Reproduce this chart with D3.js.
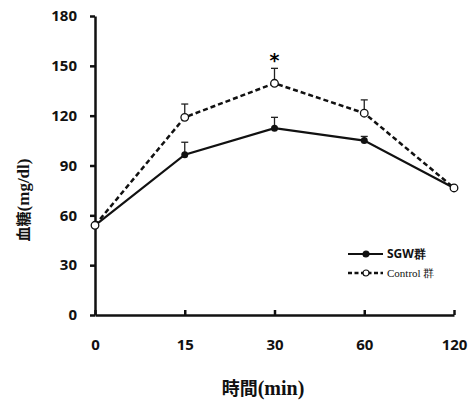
<!DOCTYPE html>
<html>
<head>
<meta charset="utf-8">
<script src="https://cdn.jsdelivr.net/npm/d3@7"></script>
<style>
  body { margin: 0; background: #fff; }
  .tick text { font-family: "Open Sans", sans-serif; font-weight: bold; font-size: 15px; fill: #111; }
</style>
</head>
<body>
<div id="chart"></div>
<script>
// data
const times = ["0", "15", "30", "60", "120"];
const sgwMean = [54, 96.5, 112.5, 105, 76.5];
const sgwErr = [0, 7.5, 6.5, 2.5, 0];
const ctrlMean = [54, 119, 139.5, 121.5, 76.5];
const ctrlErr = [0, 8, 9, 8, 0];
const yTicks = [0, 30, 60, 90, 120, 150, 180];
const sigTimes = ["30"];

const width = 470, height = 401;
const margin = {top: 16, right: 16, bottom: 86, left: 95};

const svg = d3.select("#chart")
  .append("svg")
    .attr("width", width)
    .attr("height", height);

// scales
const xScale = d3.scalePoint()
  .domain(times)
  .range([margin.left, width - margin.right]);
const yScale = d3.scaleLinear()
  .domain([0, 180])
  .range([height - margin.bottom, margin.top]);

// y axis
svg.append("g")
    .attr("transform", "translate(" + margin.left + ",0)")
  .call(d3.axisLeft(yScale).tickValues(yTicks).tickSize(5).tickPadding(13).tickSizeOuter(0))
  .call(function(g) {
    g.select(".domain").attr("stroke", "#111").attr("stroke-width", 2.5);
    g.selectAll(".tick line").attr("stroke", "#111").attr("stroke-width", 2.5);
  });

// x axis (ticks point up)
svg.append("g")
    .attr("transform", "translate(0," + yScale(0) + ")")
  .call(d3.axisBottom(xScale).tickSize(-5).tickPadding(24).tickSizeOuter(0))
  .call(function(g) {
    g.select(".domain").attr("stroke", "#111").attr("stroke-width", 2.5);
    g.selectAll(".tick line").attr("stroke", "#111").attr("stroke-width", 2.5);
  });

// error bars
function errorBars(mean, err) {
  const rows = times.map(function(t, i) { return {t: t, m: mean[i], e: err[i]}; })
    .filter(function(d) { return d.e > 0; });
  const g = svg.append("g").attr("stroke", "#222").attr("stroke-width", 1.3);
  g.selectAll("line.v").data(rows).enter().append("line")
      .attr("x1", function(d) { return xScale(d.t); })
      .attr("x2", function(d) { return xScale(d.t); })
      .attr("y1", function(d) { return yScale(d.m); })
      .attr("y2", function(d) { return yScale(d.m + d.e); });
  g.selectAll("line.c").data(rows).enter().append("line")
      .attr("x1", function(d) { return xScale(d.t) - 3.5; })
      .attr("x2", function(d) { return xScale(d.t) + 3.5; })
      .attr("y1", function(d) { return yScale(d.m + d.e); })
      .attr("y2", function(d) { return yScale(d.m + d.e); });
}
errorBars(sgwMean, sgwErr);
errorBars(ctrlMean, ctrlErr);

const line = d3.line()
  .x(function(d, i) { return xScale(times[i]); })
  .y(function(d) { return yScale(d); });

// SGW group
svg.append("path")
    .datum(sgwMean)
    .attr("fill", "none")
    .attr("stroke", "#111")
    .attr("stroke-width", 2.2)
    .attr("d", line);
svg.append("g")
  .selectAll("circle")
  .data(sgwMean)
  .enter()
  .append("circle")
    .attr("cx", function(d, i) { return xScale(times[i]); })
    .attr("cy", function(d) { return yScale(d); })
    .attr("r", 3.5)
    .attr("fill", "#111");

// Control group
svg.append("path")
    .datum(ctrlMean)
    .attr("fill", "none")
    .attr("stroke", "#111")
    .attr("stroke-width", 2.5)
    .attr("stroke-dasharray", "5,3")
    .attr("d", line);
svg.append("g")
  .selectAll("circle")
  .data(ctrlMean)
  .enter()
  .append("circle")
    .attr("cx", function(d, i) { return xScale(times[i]); })
    .attr("cy", function(d) { return yScale(d); })
    .attr("r", 3.8)
    .attr("fill", "#fff")
    .attr("stroke", "#111")
    .attr("stroke-width", 1.3);

// significance mark
svg.selectAll(".sig")
  .data(sigTimes)
  .enter()
  .append("text")
    .attr("class", "sig")
    .attr("x", function(d) { return xScale(d); })
    .attr("y", function(d) { return yScale(ctrlMean[times.indexOf(d)] + ctrlErr[times.indexOf(d)]) - 1; })
    .attr("text-anchor", "middle")
    .style("font-family", "'DejaVu Sans', sans-serif")
    .style("font-weight", "bold")
    .style("font-size", "19px")
    .text("*");

// axis titles
svg.append("text")
    .attr("x", 263)
    .attr("y", 395)
    .attr("text-anchor", "middle")
    .style("font-weight", "bold")
    .style("fill", "#111")
  .call(function(t) {
    t.append("tspan").style("font-family", "'Noto Sans CJK TC', sans-serif").style("font-size", "18px").text("時間");
    t.append("tspan").style("font-family", "'Liberation Serif', serif").style("font-size", "20px").text("(min)");
  });

svg.append("text")
    .attr("transform", "translate(29,200) rotate(-90)")
    .attr("text-anchor", "middle")
    .style("font-weight", "bold")
    .style("fill", "#111")
  .call(function(t) {
    t.append("tspan").style("font-family", "'Noto Sans CJK TC', sans-serif").style("font-size", "15px").text("血糖");
    t.append("tspan").style("font-family", "'Liberation Serif', serif").style("font-size", "17px").text("(mg/dl)");
  });

// legend
const legLabel = ["SGW群", "Control 群"];
const legend = svg.selectAll(".legend")
  .data(legLabel)
  .enter()
  .append("g")
    .attr("class", "legend")
    .attr("transform", function(d, i) { return "translate(348," + (254 + i * 19) + ")"; });

legend.append("line")
    .attr("x1", 0).attr("x2", 35)
    .attr("stroke", "#111")
    .attr("stroke-width", function(d, i) { return i ? 2.5 : 2; })
    .attr("stroke-dasharray", function(d, i) { return i ? "4,2.5" : null; });
legend.append("circle")
    .attr("cx", 18)
    .attr("r", 3)
    .attr("fill", function(d, i) { return i ? "#fff" : "#111"; })
    .attr("stroke", "#111")
    .attr("stroke-width", 1.2);
legend.append("text")
    .attr("x", 39)
    .attr("dy", "0.35em")
    .style("font-family", function(d, i) { return i ? "'Liberation Serif', serif" : "'Open Sans', sans-serif"; })
    .style("font-weight", function(d, i) { return i ? "normal" : "bold"; })
    .style("font-size", function(d, i) { return i ? "11px" : "12px"; })
    .style("fill", "#111")
    .text(function(d) { return d; });
</script>
</body>
</html>
